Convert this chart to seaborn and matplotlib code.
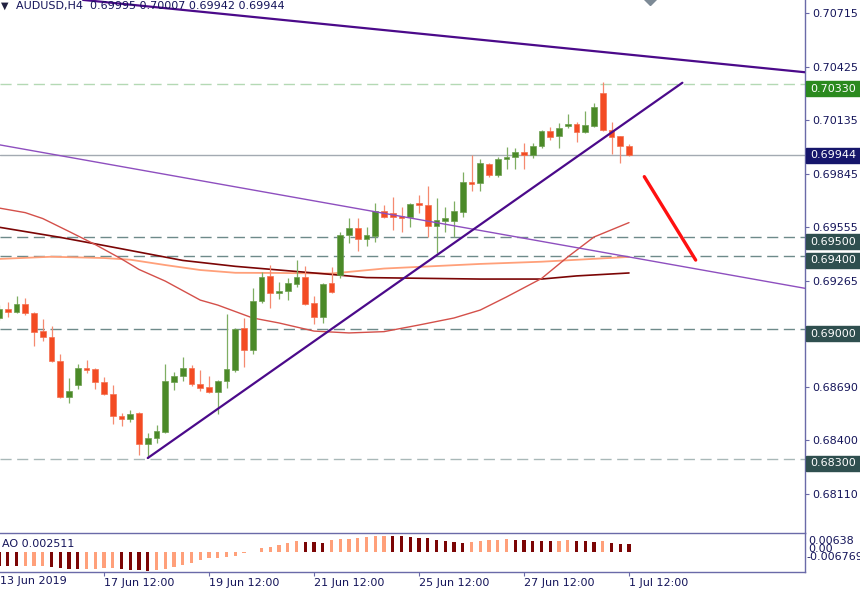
import numpy as np
import seaborn as sns
import matplotlib.pyplot as plt
from matplotlib.patches import Rectangle
from matplotlib.transforms import blended_transform_factory

# AUDUSD H4, bars from 13 Jun 12:00 to 1 Jul 12:00 (73 bars)
opens = [0.69062, 0.69111, 0.69095, 0.69138, 0.69089, 0.68991, 0.68959, 0.68829, 0.68634, 0.68699,
         0.68791, 0.68786, 0.68715, 0.68650, 0.68531, 0.68515, 0.68547, 0.68379, 0.68412, 0.68444,
         0.68715, 0.68748, 0.68791, 0.68704, 0.68688, 0.68661, 0.68720, 0.68780, 0.69008, 0.68889,
         0.69154, 0.69290, 0.69197, 0.69208, 0.69246, 0.69284, 0.69143, 0.69067, 0.69252, 0.69295,
         0.69512, 0.69550, 0.69490, 0.69506, 0.69642, 0.69631, 0.69615, 0.69609, 0.69685, 0.69674,
         0.69561, 0.69588, 0.69588, 0.69637, 0.69799, 0.69794, 0.69897, 0.69837, 0.69924, 0.69935,
         0.69962, 0.69945, 0.69994, 0.70075, 0.70048, 0.70102, 0.70113, 0.70070, 0.70102, 0.70281,
         0.70081, 0.70048, 0.69995]
highs = [0.69132, 0.69149, 0.69181, 0.69170, 0.69095, 0.69057, 0.69019, 0.68867, 0.68737, 0.68813,
         0.68834, 0.68790, 0.68742, 0.68699, 0.68547, 0.68563, 0.68550, 0.68439, 0.68482, 0.68813,
         0.68769, 0.68851, 0.68807, 0.68780, 0.68748, 0.68725, 0.69084, 0.69008, 0.69062, 0.69225,
         0.69311, 0.69349, 0.69257, 0.69279, 0.69376, 0.69344, 0.69181, 0.69250, 0.69338, 0.69528,
         0.69604, 0.69604, 0.69555, 0.69685, 0.69674, 0.69718, 0.69664, 0.69685, 0.69729, 0.69777,
         0.69712, 0.69664, 0.69697, 0.69853, 0.69945, 0.69924, 0.69902, 0.69935, 0.69989, 0.69983,
         0.70010, 0.70010, 0.70081, 0.70097, 0.70119, 0.70168, 0.70124, 0.70184, 0.70227, 0.70341,
         0.70124, 0.70050, 0.70007]
lows = [0.69051, 0.69067, 0.69089, 0.69078, 0.68910, 0.68937, 0.68824, 0.68628, 0.68601, 0.68678,
        0.68764, 0.68678, 0.68645, 0.68487, 0.68477, 0.68498, 0.68319, 0.68303, 0.68384, 0.68439,
        0.68672, 0.68720, 0.68693, 0.68666, 0.68655, 0.68542, 0.68683, 0.68769, 0.68796, 0.68867,
        0.69143, 0.69116, 0.69165, 0.69159, 0.69230, 0.69135, 0.69029, 0.69035, 0.69200, 0.69279,
        0.69468, 0.69425, 0.69452, 0.69474, 0.69604, 0.69539, 0.69528, 0.69555, 0.69631, 0.69501,
        0.69414, 0.69528, 0.69501, 0.69609, 0.69750, 0.69750, 0.69826, 0.69826, 0.69870, 0.69870,
        0.69870, 0.69929, 0.69983, 0.70027, 0.69983, 0.70092, 0.70016, 0.70065, 0.70097, 0.70075,
        0.69951, 0.69902, 0.69942]
closes = [0.69111, 0.69095, 0.69138, 0.69089, 0.68986, 0.68959, 0.68829, 0.68634, 0.68666, 0.68791,
          0.68780, 0.68715, 0.68650, 0.68531, 0.68515, 0.68542, 0.68379, 0.68412, 0.68449, 0.68720,
          0.68748, 0.68791, 0.68704, 0.68683, 0.68661, 0.68720, 0.68786, 0.69002, 0.68889, 0.69154,
          0.69284, 0.69197, 0.69208, 0.69252, 0.69284, 0.69138, 0.69067, 0.69246, 0.69203, 0.69512,
          0.69550, 0.69490, 0.69512, 0.69642, 0.69609, 0.69609, 0.69604, 0.69680, 0.69674, 0.69561,
          0.69593, 0.69604, 0.69642, 0.69799, 0.69788, 0.69902, 0.69837, 0.69924, 0.69935, 0.69962,
          0.69945, 0.69994, 0.70075, 0.70043, 0.70092, 0.70113, 0.70070, 0.70108, 0.70206, 0.70081,
          0.70043, 0.69994, 0.69944]

# Awesome Oscillator
ao_values = [-0.00470, -0.00478, -0.00482, -0.00478, -0.00475, -0.00472, -0.00502, -0.00536, -0.00559, -0.00582,
             -0.00565, -0.00560, -0.00536, -0.00530, -0.00571, -0.00594, -0.00617, -0.00628, -0.00622, -0.00559,
             -0.00513, -0.00444, -0.00363, -0.00282, -0.00213, -0.00190, -0.00179, -0.00144, -0.00052, -0.00017,
             0.00133, 0.00179, 0.00248, 0.00294, 0.00352, 0.00345, 0.00329, 0.00317, 0.00386, 0.00421,
             0.00444, 0.00478, 0.00502, 0.00525, 0.00530, 0.00527, 0.00522, 0.00502, 0.00478, 0.00470,
             0.00409, 0.00363, 0.00329, 0.00294, 0.00329, 0.00363, 0.00386, 0.00409, 0.00421, 0.00409,
             0.00386, 0.00380, 0.00363, 0.00352, 0.00363, 0.00386, 0.00363, 0.00352, 0.00329, 0.00352,
             0.00294, 0.00271, 0.002511]

# moving averages (read at some bars)
ma_fast_idx = [0, 3, 5, 8, 11, 14, 16, 19, 23, 25, 29, 32, 36, 40, 44, 48, 52, 55, 58, 62, 65, 68, 72]
ma_fast = [0.69658, 0.69633, 0.69601, 0.69531, 0.69460, 0.69382, 0.69325, 0.69262, 0.69159, 0.69132,
           0.69062, 0.69035, 0.68991, 0.68981, 0.68988, 0.69024, 0.69062, 0.69105, 0.69176, 0.69276,
           0.69393, 0.69501, 0.69579]
ma_slow_idx = [0, 7, 12, 18, 21, 27, 32, 38, 42, 55, 62, 66, 72]
ma_slow = [0.69554, 0.69499, 0.69455, 0.69401, 0.69374, 0.69342, 0.69322, 0.69298, 0.69281, 0.69273,
           0.69273, 0.69290, 0.69306]
ma_mid_idx = [0, 6, 12, 15, 19, 23, 27, 32, 38, 44, 55, 62, 72]
ma_mid = [0.69382, 0.69394, 0.69387, 0.69378, 0.69349, 0.69322, 0.69307, 0.69306, 0.69303, 0.69330,
          0.69355, 0.69367, 0.69393]

# drawn objects
level_prices = [0.70330, 0.69500, 0.69400, 0.69000, 0.68300]
level_colors = ['#b4d9b4', '#6e8a8a', '#6e8a8a', '#6e8a8a', '#a9b8b8']
box_colors = ['#2b8a1f', '#2f4f4f', '#2f4f4f', '#2f4f4f', '#2f4f4f']
bid_price = 0.69944
up_trend_idx = [17, 78.1]
up_trend_px = [0.68303, 0.70337]
top_line_idx = [9.6, 92.1]
top_line_px = [0.70786, 0.70394]
channel_idx = [0, 92.1]
channel_px = [0.70001, 0.69223]
arrow_idx = [73.75, 79.62]
arrow_px = [0.69828, 0.69376]
shift_mark = (74.4, 0.70791)

y_ticks = [0.70715, 0.70425, 0.70135, 0.69845, 0.69555, 0.69265, 0.68690, 0.68400, 0.68110]
x_tick_idx = [12, 24, 36, 48, 60, 72]
x_tick_labels = ['17 Jun 12:00', '19 Jun 12:00', '21 Jun 12:00', '25 Jun 12:00', '27 Jun 12:00', '1 Jul 12:00']

sns.set_style("white")
plt.rcParams['font.family'] = ['DejaVu Sans']

W, H = 860, 591
fig = plt.figure(figsize=(W / 100, H / 100), dpi=100)
ax = fig.add_axes([0, 58 / H, 805 / W, 533 / H])
ax2 = fig.add_axes([0, 19 / H, 805 / W, 39 / H])

y_top = 0.707855
px = 0.0000542
y_bot = y_top - 533 * px
x_lo, x_hi = 1 / 8.75, 806 / 8.75

idx = np.arange(len(opens))
o = np.array(opens)
c = np.array(closes)
up = c >= o

axis_col = '#6a6aa8'
txt_col = '#14145a'

# levels
for p, col in zip(level_prices, level_colors):
    ax.axhline(p, color=col, lw=1.0, dashes=(8, 4), zorder=1)
ax.axhline(bid_price, color='#a3aab2', lw=1.0, zorder=1)

# moving averages
sns.lineplot(x=ma_mid_idx, y=ma_mid, ax=ax, color='#ffa07a', linewidth=1.3, zorder=1.5)
sns.lineplot(x=ma_slow_idx, y=ma_slow, ax=ax, color='#7b0505', linewidth=1.2, zorder=1.5)
sns.lineplot(x=ma_fast_idx, y=ma_fast, ax=ax, color='#d4504a', linewidth=1.0, zorder=1.5)

# candles
wick_cols = np.where(up, '#7fae62', '#f58a70')
body_cols = np.where(up, '#4b8a28', '#f34b23')
edge_cols = np.where(up, '#6c9e50', '#f57050')
ax.vlines(idx, lows, highs, colors=wick_cols, lw=0.9, zorder=2)
heights = np.maximum(np.abs(c - o), px)
ax.bar(idx, heights, bottom=np.minimum(o, c), width=0.66, color=body_cols,
       edgecolor=edge_cols, linewidth=0.5, zorder=3)

# trend lines
ax.plot(channel_idx, channel_px, color='#8e4fbf', lw=1.0, zorder=4)
ax.plot(top_line_idx, top_line_px, color='#4b0a8a', lw=1.6, zorder=4)
ax.plot(up_trend_idx, up_trend_px, color='#4b0a8a', lw=1.6, zorder=4)
ax.plot(arrow_idx, arrow_px, color='#ff1010', lw=2.4, solid_capstyle='round', zorder=4)
ax.plot([shift_mark[0]], [shift_mark[1]], marker='D', ms=6, color='#7d8a96', clip_on=False, zorder=4)

ax.set_xlim(x_lo, x_hi)
ax.set_ylim(y_bot, y_top)
ax.set_xlabel('')
ax.set_ylabel('')
ax.set_xticks([])
ax.set_yticks(y_ticks)
ax.set_yticklabels([f'{t:.5f}' for t in y_ticks])
ax.yaxis.tick_right()
ax.tick_params(axis='y', length=3, width=0.8, color=axis_col, labelcolor=txt_col,
               labelsize=8, pad=2)
for s in ['top', 'left', 'bottom']:
    ax.spines[s].set_visible(False)
ax.spines['right'].set_color(axis_col)
ax.spines['right'].set_linewidth(1.0)

# price boxes on the right axis
trans = blended_transform_factory(ax.transAxes, ax.transData)


def price_box(price, color, shift):
    yc = price - shift * px
    ax.add_patch(Rectangle((1 + 1 / 805, yc - 7.5 * px), 56 / 805, 15 * px, transform=trans,
                           color=color, clip_on=False, zorder=6))
    ax.text(1 + 5 / 805, yc, f'{price:.5f}', transform=trans, color='white', fontsize=8,
            va='center', ha='left', clip_on=False, zorder=7)


for p, col in zip(level_prices, box_colors):
    price_box(p, col, 4.5)
price_box(bid_price, '#16166b', 0)

# AO panel
ao = np.array(ao_values)
ao_cols = ['#7b0505'] + ['#7b0505' if ao[i] < ao[i - 1] else '#ffa07a' for i in range(1, len(ao))]
ax2.bar(idx, ao, width=0.36, color=ao_cols, linewidth=0)
ax2.set_xlim(x_lo, x_hi)
ax2.set_ylim(-0.006769, 0.00638)
ax2.set_yticks([])
ax2.set_xticks(x_tick_idx)
ax2.set_xticklabels(x_tick_labels)
for lbl in ax2.get_xticklabels():
    lbl.set_horizontalalignment('left')
ax2.tick_params(axis='x', bottom=True, length=3, width=0.8, color=axis_col, labelcolor=txt_col,
                labelsize=8, pad=1)
ax2.spines['left'].set_visible(False)
for s in ['top', 'right', 'bottom']:
    ax2.spines[s].set_color(axis_col)
    ax2.spines[s].set_linewidth(1.0)

# texts
fig.text(1 / W, 1 - 6 / H, '\u25bc', fontsize=7, color='#202040', va='center', ha='left')
fig.text(16 / W, 1 - 6.5 / H, f'AUDUSD,H4  {opens[-1]:.5f} {highs[-1]:.5f} {lows[-1]:.5f} {closes[-1]:.5f}',
         fontsize=8, color=txt_col, va='center', ha='left')
fig.text(2 / W, 1 - 544 / H, f'AO {ao_values[-1]:.6f}', fontsize=8, color=txt_col, va='center', ha='left')
fig.text(808 / W, 1 - 541.5 / H, '0.00638', fontsize=8, color=txt_col, va='center', ha='left')
fig.text(808 / W, 1 - 549 / H, '0.00', fontsize=8, color=txt_col, va='center', ha='left')
fig.text(806 / W, 1 - 557 / H, '-0.006769', fontsize=8, color=txt_col, va='center', ha='left')
fig.text(0 / W, 1 - 581 / H, '13 Jun 2019', fontsize=8, color=txt_col, va='center', ha='left')

fig.savefig('out.png', dpi=100)
